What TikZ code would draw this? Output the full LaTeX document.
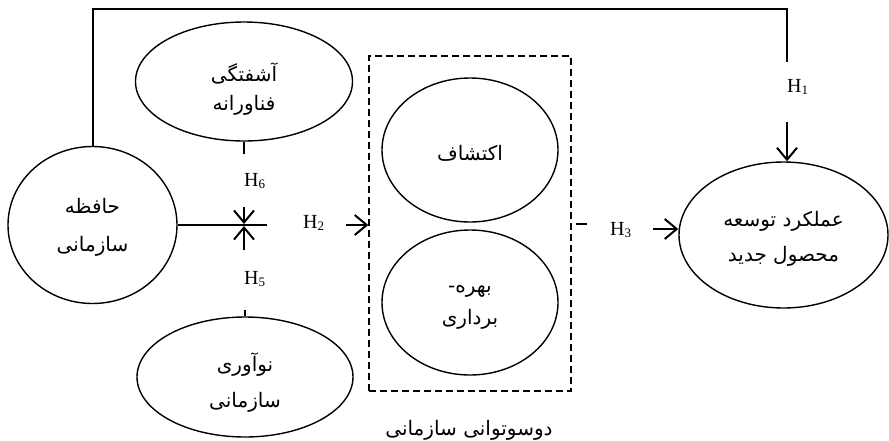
\documentclass[tikz,border=0pt]{standalone}
\usepackage{fontspec}
\setmainfont{Liberation Serif}
\newfontfamily\arabicfont[Script=Arabic]{DejaVu Sans}
\TeXXeTstate=1
\usetikzlibrary{shapes.geometric,arrows.meta,positioning}

\newcommand{\fa}[1]{{\arabicfont\beginR #1\endR}}
\newcommand{\hyp}[1]{H{\fontsize{13}{13}\selectfont\raisebox{-2pt}{#1}}}

\tikzset{
  construct/.style={draw, ellipse, line width=1.4pt, inner sep=0pt},
  context/.style={inner sep=0pt, align=center, font=\fontsize{20}{24}\selectfont},
  hyplabel/.style={inner sep=0pt, anchor=base west, font=\fontsize{20}{22}\selectfont},
  link/.style={line width=2pt},
  arr/.style={link, -{Straight Barb[length=12pt,width=20pt]}},
}

\begin{document}
\begin{tikzpicture}[x=1pt, y=-1pt]
  \useasboundingbox (0,0) rectangle (889,440);

  % constructs
  \node[construct, minimum width=169pt, minimum height=157pt] (mem) at (92.5,225) {};
  \node[construct, minimum width=217pt, minimum height=119pt] (turb) at (244,81.5) {};
  \node[construct, minimum width=216pt, minimum height=120pt] (innov) at (245,377) {};
  \node[construct, minimum width=209pt, minimum height=146pt] (npd) at (783.5,235) {};
  \node[context] (memtext) at ([yshift=-2pt]mem.center) {\fa{حافظه}\\[14pt]\fa{سازمانی}};
  \node[context] (turbtext) at ([yshift=-8pt]turb.center) {\fa{آشفتگی}\\[5pt]\fa{فناورانه}};
  \node[context] (innovtext) at ([yshift=-6pt]innov.center) {\fa{نوآوری}\\[12pt]\fa{سازمانی}};
  \node[context] (npdtext) at ([yshift=-4pt]npd.center) {\fa{عملکرد توسعه}\\[11pt]\fa{محصول جدید}};

  % ambidexterity box
  \node[draw, line width=1.4pt, dash pattern=on 7pt off 4pt, inner sep=0pt,
    minimum width=202pt, minimum height=335pt] (ambi) at (470,223.5) {};
  \node[construct, minimum width=176pt, minimum height=144pt] (explore) at (470,150) {};
  \node[construct, minimum width=176pt, minimum height=145pt] (exploit) at (470,302.5) {};
  \node[context] (exploretext) at ([yshift=-3pt]explore.center) {\fa{اکتشاف}};
  \node[context] (exploittext) at ([yshift=-5pt]exploit.center) {\fa{بهره-}\\[8pt]\fa{برداری}};
  \node[context] (ambitext) at (469,430) {\fa{دوسوتوانی سازمانی}};

  % hypothesis labels
  \node[hyplabel, text height=30pt, text depth=30pt] (h1) at (787,92) {\hyp{1}};
  \node[hyplabel, text height=10pt, text depth=4pt] (h2) at (303,228) {\hyp{2}};
  \node[hyplabel, text height=14pt, text depth=2pt] (h3) at (610,235) {\hyp{3}};
  \node[hyplabel, text height=34pt, text depth=26pt] (h5) at (244,284) {\hyp{5}};
  \node[hyplabel, text height=32pt, text depth=21pt] (h6) at (244,186) {\hyp{6}};

  % H1: memory -> performance over the top
  \coordinate (ceil) at (0,9);
  \draw[link] (mem.north) -- (mem.north |- ceil) -| (h1.north west);
  \draw[arr] (h1.south west) -- (h1.south west |- npd.north);

  % H2 with moderators H5, H6
  \draw[link] (mem.east) -- ([xshift=-36pt]h2.west);
  \draw[arr] ([xshift=22pt]h2.east) -- (h2.east -| ambi.west);
  \draw[link] (turb.south) -- (turb.south |- h6.north west);
  \draw[arr, shorten >=1pt] (h6.south west) -- (h6.south west |- mem.east);
  \draw[link] (innov.north) -- (innov.north |- h5.south west);
  \draw[arr, shorten >=1pt] (h5.north west) -- (h5.north west |- mem.east);

  % H3: ambidexterity -> performance
  \draw[link] ([xshift=4pt]ambi.east) -- ([xshift=15pt]ambi.east);
  \draw[arr] ([xshift=22pt]h3.east) -- (h3.east -| npd.west);
\end{tikzpicture}
\end{document}
